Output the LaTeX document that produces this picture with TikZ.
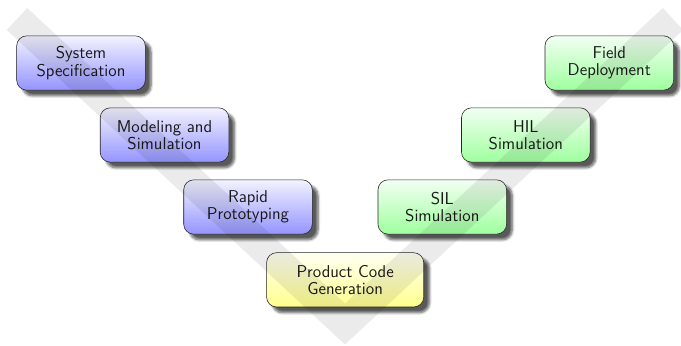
\documentclass[tikz,border=0pt]{standalone}
\usetikzlibrary{positioning, shadows, shadows.blur}
\tikzstyle{stage} = [rectangle, rounded corners=7pt, minimum width=90pt,
    minimum height=38pt, align=center, draw=black!85, text=black!90,
    font=\fontsize{12}{12}\sffamily,
    blur shadow={shadow xshift=4pt, shadow yshift=-4pt,
        shadow blur steps=6, shadow opacity=65}]
\tikzstyle{design} = [stage, top color=blue!5, bottom color=blue!42]
\tikzstyle{test} = [stage, top color=green!5, bottom color=green!38]
\tikzstyle{codegen} = [stage, top color=yellow!5, bottom color=yellow!45,
    minimum width=110pt]
\tikzstyle{vband} = [line width=21pt, draw=black, opacity=0.08]

\begin{document}
\begin{tikzpicture}[x=0.7pt, y=-0.7pt, on grid, node distance=50.4pt and 58.45pt]
\useasboundingbox (0,0) rectangle (681,346);

% Nodes
\node (sysspec) [design] at (81,63) {System\\Specification};
\node (model) [design, below right=of sysspec] {Modeling and\\Simulation};
\node (rapid) [design, below right=of model] {Rapid\\Prototyping};
\node (product) [codegen, below right=51pt and 68pt of rapid] {Product Code\\Generation};
\node (sil) [test, above right=51pt and 68pt of product] {SIL\\Simulation};
\node (hil) [test, above right=of sil] {HIL\\Simulation};
\node (field) [test, above right=of hil] {Field\\Deployment};

% V band
\draw [vband] (17,19) -- (345,324) -- (673,19);

\end{tikzpicture}
\end{document}
